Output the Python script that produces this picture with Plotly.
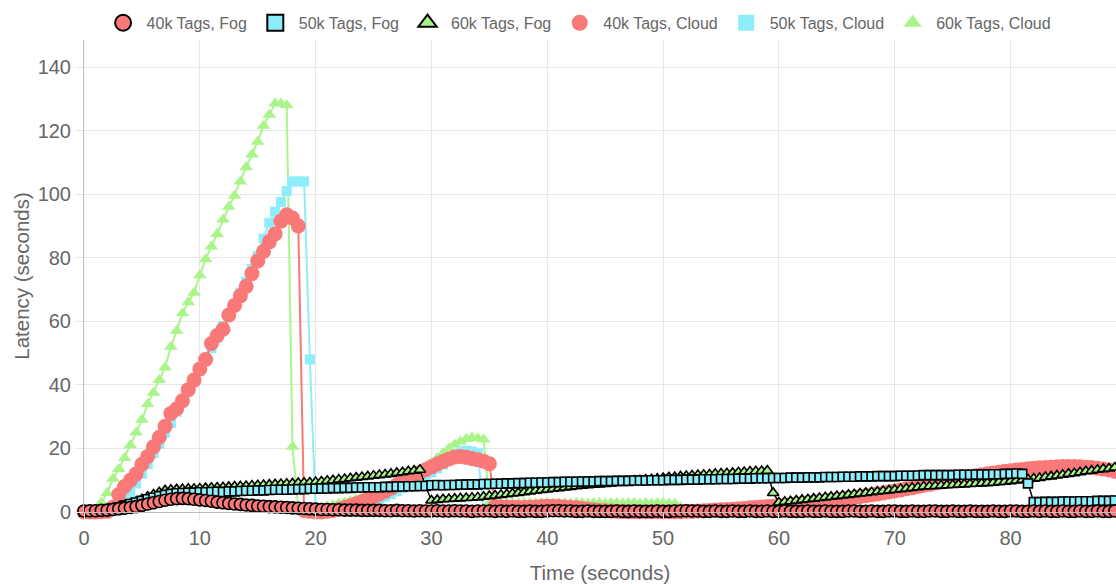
import plotly.graph_objects as go

# ---------------- data ----------------
TIME_S = [
    0, 0.5, 1, 1.5, 2, 2.5, 3, 3.5, 4, 4.5,
    5, 5.5, 6, 6.5, 7, 7.5, 8, 8.5, 9, 9.5,
    10, 10.5, 11, 11.5, 12, 12.5, 13, 13.5, 14, 14.5,
    15, 15.5, 16, 16.5, 17, 17.5, 18, 18.5, 19, 19.5,
    20, 20.5, 21, 21.5, 22, 22.5, 23, 23.5, 24, 24.5,
    25, 25.5, 26, 26.5, 27, 27.5, 28, 28.5, 29, 29.5,
    30, 30.5, 31, 31.5, 32, 32.5, 33, 33.5, 34, 34.5,
    35, 35.5, 36, 36.5, 37, 37.5, 38, 38.5, 39, 39.5,
    40, 40.5, 41, 41.5, 42, 42.5, 43, 43.5, 44, 44.5,
    45, 45.5, 46, 46.5, 47, 47.5, 48, 48.5, 49, 49.5,
    50, 50.5, 51, 51.5, 52, 52.5, 53, 53.5, 54, 54.5,
    55, 55.5, 56, 56.5, 57, 57.5, 58, 58.5, 59, 59.5,
    60, 60.5, 61, 61.5, 62, 62.5, 63, 63.5, 64, 64.5,
    65, 65.5, 66, 66.5, 67, 67.5, 68, 68.5, 69, 69.5,
    70, 70.5, 71, 71.5, 72, 72.5, 73, 73.5, 74, 74.5,
    75, 75.5, 76, 76.5, 77, 77.5, 78, 78.5, 79, 79.5,
    80, 80.5, 81, 81.5, 82, 82.5, 83, 83.5, 84, 84.5,
    85, 85.5, 86, 86.5, 87, 87.5, 88, 88.5, 89, 89.5,
]

FOG_40K = [
    0.3, 0.4, 0.4, 0.5, 0.6, 0.8, 1.0, 1.2, 1.4, 1.7,
    2.1, 2.5, 2.9, 3.3, 3.7, 4.0, 4.2, 4.3, 4.2, 4.0,
    3.8, 3.6, 3.4, 3.1, 2.9, 2.7, 2.5, 2.4, 2.2, 2.1,
    1.9, 1.8, 1.7, 1.6, 1.5, 1.4, 1.3, 1.2, 1.1, 1.0,
    0.9, 0.8, 0.8, 0.7, 0.7, 0.6, 0.6, 0.6, 0.5, 0.5,
    0.5, 0.5, 0.4, 0.4, 0.5, 0.4, 0.4, 0.3, 0.4, 0.3,
    0.3, 0.4, 0.3, 0.3, 0.4, 0.3, 0.3, 0.2, 0.3, 0.3,
    0.3, 0.2, 0.3, 0.2, 0.3, 0.2, 0.2, 0.3, 0.2, 0.2,
    0.3, 0.4, 0.4, 0.3, 0.3, 0.2, 0.2, 0.3, 0.2, 0.2,
    0.2, 0.2, 0.3, 0.2, 0.2, 0.3, 0.2, 0.2, 0.2, 0.3,
    0.2, 0.2, 0.3, 0.3, 0.4, 0.3, 0.3, 0.2, 0.2, 0.3,
    0.2, 0.2, 0.3, 0.2, 0.2, 0.3, 0.2, 0.2, 0.3, 0.2,
    0.2, 0.3, 0.2, 0.2, 0.2, 0.3, 0.2, 0.2, 0.3, 0.2,
    0.2, 0.2, 0.3, 0.3, 0.2, 0.2, 0.3, 0.2, 0.2, 0.3,
    0.3, 0.2, 0.2, 0.3, 0.2, 0.2, 0.3, 0.3, 0.2, 0.2,
    0.3, 0.2, 0.2, 0.3, 0.2, 0.2, 0.2, 0.3, 0.2, 0.2,
    0.3, 0.3, 0.2, 0.2, 0.3, 0.2, 0.3, 0.2, 0.2, 0.3,
    0.2, 0.2, 0.3, 0.2, 0.2, 0.3, 0.2, 0.2, 0.3, 0.2,
]

FOG_50K = [
    0.1, 0.2, 0.3, 0.5, 0.8, 1.1, 1.5, 2.0, 2.5, 3.0,
    3.5, 4.0, 4.5, 5.0, 5.4, 5.7, 5.9, 6.0, 6.1, 6.1,
    6.2, 6.2, 6.3, 6.4, 6.3, 6.5, 6.5, 6.6, 6.7, 6.7,
    6.8, 6.8, 6.9, 7.0, 7.0, 7.0, 7.1, 7.2, 7.2, 7.3,
    7.3, 7.4, 7.4, 7.5, 7.5, 7.6, 7.6, 7.7, 7.7, 7.8,
    7.8, 7.8, 7.9, 7.9, 8.0, 8.0, 8.1, 8.1, 8.2, 8.2,
    8.4, 8.5, 8.4, 8.5, 8.5, 8.6, 8.6, 8.7, 8.7, 8.8,
    8.8, 8.9, 8.9, 9.0, 9.0, 9.1, 9.1, 9.2, 9.2, 9.3,
    9.3, 9.4, 9.4, 9.5, 9.5, 9.5, 9.6, 9.6, 9.6, 9.7,
    9.7, 9.7, 9.8, 9.8, 9.8, 9.9, 9.9, 9.9, 10.0, 10.0,
    10.0, 10.1, 10.1, 10.1, 10.2, 10.2, 10.2, 10.3, 10.3, 10.3,
    10.4, 10.4, 10.4, 10.5, 10.5, 10.5, 10.6, 10.6, 10.6, 10.7,
    10.7, 10.7, 10.8, 10.8, 10.8, 10.9, 10.9, 10.9, 11.0, 11.0,
    11.0, 11.1, 11.1, 11.1, 11.2, 11.2, 11.2, 11.3, 11.3, 11.3,
    11.3, 11.4, 11.4, 11.4, 11.5, 11.6, 11.6, 11.6, 11.6, 11.6,
    11.6, 11.7, 11.7, 11.7, 11.8, 11.8, 11.8, 11.9, 11.9, 12.0,
    12.0, 12.1, 12.0, 9.0, 3.1, 3.1, 3.2, 3.2, 3.2, 3.3,
    3.3, 3.3, 3.4, 3.4, 3.4, 3.5, 3.5, 3.5, 3.6, 3.6,
]

FOG_60K = [
    0.1, 0.2, 0.3, 0.5, 0.8, 1.2, 1.6, 2.1, 2.6, 3.2,
    4.0, 4.8, 5.5, 6.2, 6.8, 7.0, 7.1, 7.2, 7.3, 7.3,
    7.4, 7.5, 7.6, 7.7, 7.8, 7.9, 8.0, 8.1, 8.2, 8.3,
    8.4, 8.5, 8.6, 8.7, 8.8, 8.9, 9.0, 9.1, 9.2, 9.3,
    9.4, 9.6, 9.8, 10.0, 10.2, 10.4, 10.6, 10.8, 11.0, 11.2,
    11.4, 11.6, 11.8, 12.0, 12.3, 12.5, 12.8, 13.0, 13.3, 8.0,
    3.6, 3.8, 4.0, 4.1, 4.2, 4.3, 4.4, 4.5, 4.6, 4.8,
    5.0, 5.2, 5.4, 5.6, 5.8, 6.0, 6.2, 6.5, 6.7, 6.9,
    7.1, 7.3, 7.5, 7.7, 7.9, 8.1, 8.3, 8.4, 8.6, 8.7,
    8.8, 9.0, 9.2, 9.4, 9.6, 9.8, 10.0, 10.2, 10.3, 10.5,
    10.7, 10.9, 11.0, 11.2, 11.3, 11.5, 11.6, 11.7, 11.8, 12.0,
    12.1, 12.2, 12.3, 12.5, 12.6, 12.7, 12.8, 12.9, 13.0, 6.0,
    3.0, 3.2, 3.4, 3.6, 3.8, 4.0, 4.2, 4.4, 4.6, 4.8,
    5.0, 5.2, 5.4, 5.6, 5.8, 6.0, 6.2, 6.4, 6.6, 6.8,
    7.0, 7.2, 7.4, 7.6, 7.8, 8.0, 8.1, 8.2, 8.3, 8.4,
    8.5, 8.6, 8.7, 8.8, 8.9, 9.0, 9.1, 9.2, 9.4, 9.5,
    9.7, 9.9, 10.1, 10.3, 10.5, 10.7, 11.0, 11.2, 11.5, 11.7,
    12.0, 12.2, 12.5, 12.8, 13.0, 13.3, 13.5, 13.7, 14.0, 14.2,
]

CLOUD_40K = [
    0.0, 0.0, 0.0, 0.1, 0.2, 1.5, 5.5, 8.0, 10.0, 12.0,
    15.0, 17.5, 20.5, 23.5, 27.0, 31.0, 32.5, 35.0, 38.5, 41.5,
    45.0, 48.0, 53.0, 55.5, 57.5, 62.0, 65.0, 68.0, 71.0, 75.0,
    79.0, 82.0, 85.0, 87.5, 91.5, 93.5, 92.5, 90.0, 0.5, 0.2,
    0.0, 0.0, 0.2, 0.5, 0.9, 1.4, 2.0, 2.6, 3.3, 4.0,
    4.8, 5.6, 6.5, 7.5, 8.5, 9.5, 10.5, 11.5, 12.4, 13.3,
    14.2, 15.1, 15.9, 16.7, 17.3, 17.5, 17.2, 16.8, 16.4, 16.0,
    15.2, 1.8, 1.6, 1.5, 1.5, 1.4, 1.4, 1.5, 1.6, 1.7,
    1.8, 1.8, 1.7, 1.6, 1.5, 1.3, 1.1, 0.9, 0.7, 0.5,
    0.4, 0.3, 0.2, 0.2, 0.1, 0.1, 0.1, 0.1, 0.1, 0.1,
    0.1, 0.1, 0.1, 0.1, 0.2, 0.2, 0.3, 0.4, 0.5, 0.6,
    0.7, 0.8, 0.9, 1.0, 1.1, 1.3, 1.4, 1.6, 1.7, 1.8,
    1.9, 2.1, 2.3, 2.5, 2.7, 2.9, 3.1, 3.3, 3.5, 3.7,
    3.9, 4.1, 4.4, 4.6, 4.9, 5.1, 5.4, 5.7, 6.0, 6.3,
    6.6, 6.9, 7.3, 7.6, 8.0, 8.4, 8.7, 9.1, 9.4, 9.8,
    10.1, 10.5, 10.8, 11.1, 11.4, 11.7, 12.0, 12.3, 12.5, 12.8,
    13.0, 13.2, 13.4, 13.6, 13.8, 13.9, 14.0, 14.1, 14.2, 14.3,
    14.3, 14.3, 14.2, 14.1, 14.0, 13.8, 13.5, 13.2, 12.8, 12.4,
]

CLOUD_50K = [
    0.0, 0.0, 0.0, 0.0, 0.0, 0.2, 1.0, 3.5, 6.0, 9.0,
    12.0, 15.0, 18.5, 21.5, 25.0, 28.0, 31.5, 34.5, 38.0, 41.0,
    44.5, 48.0, 51.5, 55.0, 58.5, 62.0, 65.5, 69.0, 72.5, 76.5,
    80.5, 86.0, 91.0, 94.5, 97.5, 101.0, 104.0, 104.0, 104.0, 48.0,
    0.5, 0.3, 0.3, 0.4, 0.6, 0.9, 1.3, 1.8, 2.3, 2.9,
    3.5, 4.1, 4.8, 5.6, 6.5, 7.5, 8.5, 9.5, 10.5, 11.5,
    12.5, 13.7, 15.0, 16.2, 17.5, 18.8, 19.3, 19.0, 18.5, 0.3,
    0.2, 0.2, 0.2, 0.2, 0.2, 0.2, 0.2, 0.2, 0.2, 0.2,
    0.2, 0.2, 0.2, 0.2, 0.2, 0.2, 0.2, 0.2, 0.2, 0.2,
    0.2, 0.2, 0.2, 0.2, 0.2, 0.2, 0.2, 0.2, 0.2, 0.2,
    0.2, 0.2, 0.2, 0.2, 0.2, 0.2, 0.2, 0.2, 0.2, 0.2,
    0.2, 0.2, 0.2, 0.2, 0.2, 0.2, 0.2, 0.2, 0.2, 0.2,
    0.2, 0.2, 0.2, 0.2, 0.2, 0.2, 0.2, 0.2, 0.2, 0.2,
    0.2, 0.2, 0.2, 0.2, 0.2, 0.2, 0.2, 0.2, 0.2, 0.2,
    0.2, 0.2, 0.2, 0.2, 0.2, 0.2, 0.2, 0.2, 0.2, 0.2,
    0.2, 0.2, 0.2, 0.2, 0.2, 0.2, 0.2, 0.2, 0.2, 0.2,
    0.2, 0.2, 0.2, 0.2, 0.2, 0.2, 0.2, 0.2, 0.2, 0.2,
    0.2, 0.2, 0.2, 0.2, 0.2, 0.2, 0.2, 0.2, 0.2, 0.2,
]

CLOUD_60K = [
    0.0, 0.0, 0.5, 3.0, 6.0, 10.5, 13.5, 17.0, 21.0, 25.0,
    29.0, 34.0, 37.5, 41.5, 45.5, 52.0, 57.0, 62.5, 66.0, 69.0,
    74.5, 79.5, 83.5, 87.5, 92.0, 96.0, 99.5, 104.0, 108.5, 112.5,
    116.5, 121.5, 125.0, 128.5, 128.5, 128.0, 20.5, 1.5, 0.3, 0.5,
    1.0, 1.4, 1.8, 2.2, 2.6, 3.0, 3.5, 4.0, 4.5, 5.1,
    5.7, 6.3, 7.0, 7.8, 8.6, 9.6, 10.8, 11.9, 13.0, 14.2,
    15.5, 17.0, 18.5, 20.0, 21.2, 22.2, 23.0, 23.4, 23.2, 22.8,
    2.8, 2.8, 2.7, 2.8, 2.8, 2.7, 2.8, 2.8, 2.7, 2.8,
    2.8, 2.7, 2.8, 2.8, 2.7, 2.8, 2.8, 2.7, 2.8, 2.8,
    2.7, 2.8, 2.8, 2.7, 2.8, 2.8, 2.7, 2.8, 2.7, 2.8,
    2.8, 2.7, 2.6, 1.5, 0.4, 0.3, 0.3, 0.3, 0.3, 0.3,
    0.3, 0.3, 0.3, 0.3, 0.3, 0.3, 0.3, 0.3, 0.3, 0.3,
    0.3, 0.3, 0.3, 0.3, 0.3, 0.3, 0.3, 0.3, 0.3, 0.3,
    0.3, 0.3, 0.3, 0.3, 0.3, 0.3, 0.3, 0.3, 0.3, 0.3,
    0.3, 0.3, 0.3, 0.3, 0.3, 0.3, 0.3, 0.3, 0.3, 0.3,
    0.3, 0.3, 0.3, 0.3, 0.3, 0.3, 0.3, 0.3, 0.3, 0.3,
    0.3, 0.3, 0.3, 0.3, 0.3, 0.3, 0.3, 0.3, 0.3, 0.3,
    0.3, 0.3, 0.3, 0.3, 0.3, 0.3, 0.3, 0.3, 0.3, 0.3,
]

SERIES_NAMES = ["40k Tags, Fog", "50k Tags, Fog", "60k Tags, Fog",
                "40k Tags, Cloud", "50k Tags, Cloud", "60k Tags, Cloud"]
X_TICKS = [0, 10, 20, 30, 40, 50, 60, 70, 80]
Y_TICKS = [0, 20, 40, 60, 80, 100, 120, 140]

# ---------------- style ----------------
RED = "#F97878"
CYAN = "#8EEDFB"
GREEN = "#AAF58A"
FONT = "Liberation Sans, Arial, Helvetica, sans-serif"
TXT = "#666666"
GRID = "#E6E6E6"

values = [FOG_40K, FOG_50K, FOG_60K, CLOUD_40K, CLOUD_50K, CLOUD_60K]
styles = [
    dict(color=RED, symbol="circle", size=12, border=1.6, line="#000000", lw=1.5),
    dict(color=CYAN, symbol="square", size=9, border=1.6, line="#000000", lw=1.5),
    dict(color=GREEN, symbol="triangle-up", size=10, border=1.6, line="#000000", lw=1.5),
    dict(color=RED, symbol="circle", size=15, border=0, line=RED, lw=2),
    dict(color=CYAN, symbol="square", size=10, border=0, line=CYAN, lw=2),
    dict(color=GREEN, symbol="triangle-up", size=12, border=0, line=GREEN, lw=2),
]

fig = go.Figure()

# draw so that the first series ends on top
for idx in reversed(range(6)):
    s = styles[idx]
    fig.add_trace(go.Scatter(
        x=TIME_S, y=values[idx], mode="lines+markers", name=SERIES_NAMES[idx],
        showlegend=False, cliponaxis=False,
        line=dict(color=s["line"], width=s["lw"]),
        marker=dict(symbol=s["symbol"], size=s["size"], color=s["color"],
                    line=dict(color="#000000", width=s["border"])),
    ))

# legend entries (point style only)
for idx in range(6):
    s = styles[idx]
    fig.add_trace(go.Scatter(
        x=[None], y=[None], mode="markers", name=SERIES_NAMES[idx],
        showlegend=True,
        marker=dict(symbol=s["symbol"], size=16, color=s["color"],
                    line=dict(color="#000000", width=2 if s["border"] else 0)),
    ))

fig.update_layout(
    width=1116, height=584,
    margin=dict(l=84, r=0, t=40, b=72),
    paper_bgcolor="white", plot_bgcolor="white",
    font=dict(family=FONT, color=TXT),
    showlegend=True,
    legend=dict(orientation="h", xref="container", yref="container",
                x=0.518, xanchor="center", y=0.99, yanchor="top",
                font=dict(size=16, color=TXT, family=FONT),
                itemsizing="trace", itemwidth=37, bgcolor="rgba(0,0,0,0)"),
    xaxis=dict(range=[0, 89.1], tickvals=X_TICKS, ticktext=[str(v) for v in X_TICKS],
               showgrid=True, gridcolor=GRID, gridwidth=1,
               zeroline=False, showline=True, linecolor="#BDBDBD", linewidth=1,
               ticks="outside", ticklen=8, tickcolor=GRID,
               tickfont=dict(size=20, color=TXT, family=FONT),
               title=dict(text="Time (seconds)", font=dict(size=20.5, color=TXT, family=FONT),
                          standoff=17)),
    yaxis=dict(range=[0, 148.5], tickvals=Y_TICKS, ticktext=[str(v) for v in Y_TICKS],
               showgrid=True, gridcolor=GRID, gridwidth=1,
               zeroline=False, showline=True, linecolor="#BDBDBD", linewidth=1,
               ticks="outside", ticklen=8, tickcolor=GRID,
               tickfont=dict(size=20, color=TXT, family=FONT),
               title=dict(text="Latency (seconds)", font=dict(size=20.5, color=TXT, family=FONT),
                          standoff=2)),
)

fig.write_html("out.html", config={"displayModeBar": False},
               post_script="document.body.style.margin='0';")
